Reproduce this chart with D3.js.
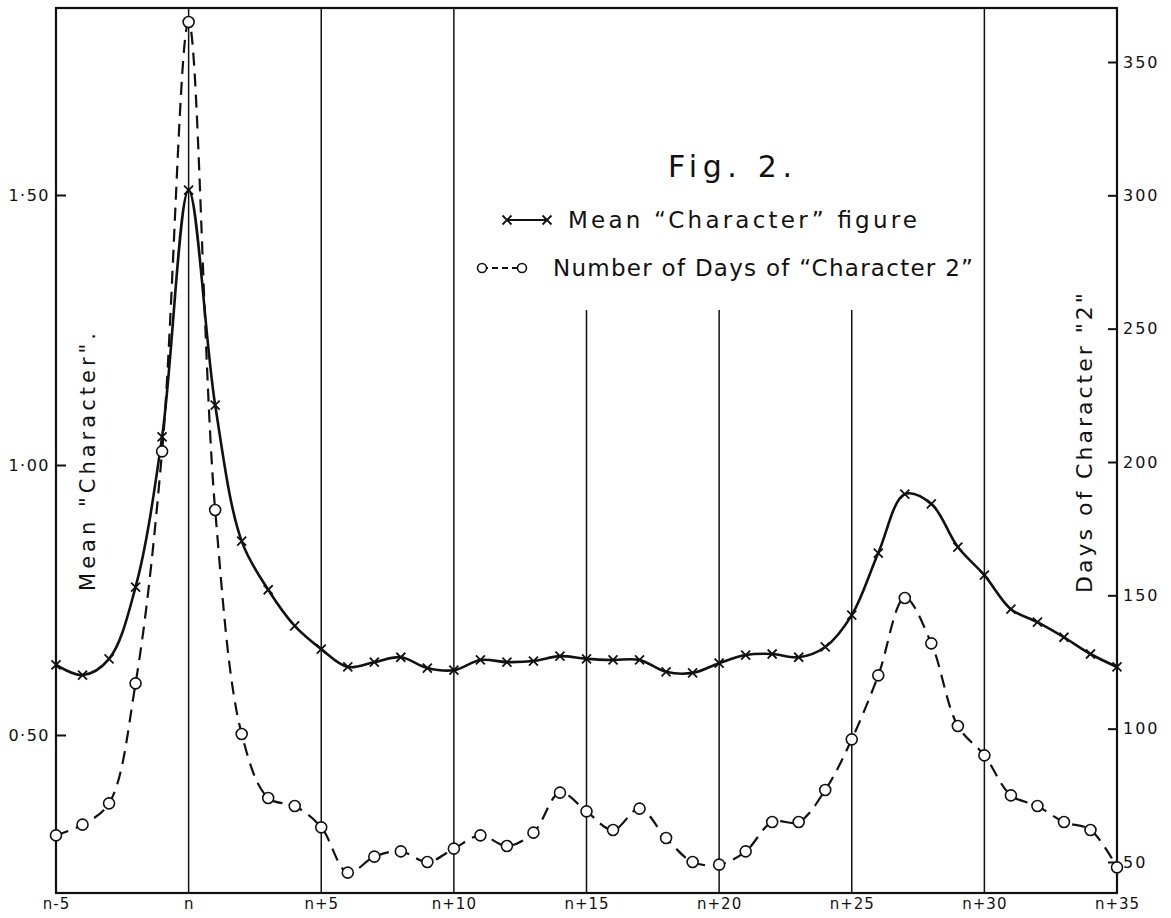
<!DOCTYPE html>
<html>
<head>
<meta charset="utf-8">
<script src="https://cdn.jsdelivr.net/npm/d3@7"></script>
<style>
  body { margin: 0; background: #fff; }
  text { font-family: "DejaVu Sans", sans-serif; fill: #111; }
</style>
</head>
<body>
<svg id="chart"></svg>
<script>
// days relative to n
days = [-5,-4,-3,-2,-1,0,1,2,3,4,5,6,7,8,9,10,11,12,13,14,15,16,17,18,19,20,
        21,22,23,24,25,26,27,28,29,30,31,32,33,34,35]
// mean "character" figure (left axis)
meanChar = [0.630,0.611,0.641,0.774,1.052,1.509,1.111,0.859,0.769,0.702,0.659,
            0.626,0.635,0.644,0.624,0.620,0.639,0.635,0.637,0.646,0.641,0.639,
            0.639,0.617,0.615,0.633,0.648,0.650,0.644,0.663,0.722,0.837,0.946,
            0.928,0.848,0.796,0.733,0.709,0.681,0.650,0.626]
// number of days of character 2 (right axis)
char2Days = [60,64,72,117,204,365,182,98,74,71,63,46,52,54,50,55,60,56,61,76,
             69,62,70,59,50,49,54,65,65,77,96,120,149,132,101,90,75,71,65,62,48]

xTicks = [-5,0,5,10,15,20,25,30,35]
xTickLabels = ['n-5','n','n+5','n+10','n+15','n+20','n+25','n+30','n+35']
leftTicks = [0.5,1.0,1.5]
leftTickLabels = ['0·50','1·00','1·50']
rightTicks = [50,100,150,200,250,300,350]
shortLines = [15,20,25]   // grid lines that stop under the legend

W = 1171; H = 918;
top_ = 8; bottom_ = 893;

svg = d3.select('#chart').attr('width', W).attr('height', H);

x = d3.scaleLinear().domain([-5,35]).range([56,1117]);
yL = d3.scaleLinear().domain([0.5,1.5]).range([735,195]);
yR = d3.scaleLinear().domain([50,350]).range([862,62]);

// vertical grid lines
svg.selectAll('.grid').data(xTicks.slice(1,-1)).enter()
  .append('line')
  .attr('x1', d => x(d)).attr('x2', d => x(d))
  .attr('y1', d => shortLines.includes(d) ? 310 : top_)
  .attr('y2', bottom_)
  .attr('stroke', '#111').attr('stroke-width', 1.5);

// frame
svg.append('rect')
  .attr('x', x(-5)).attr('y', top_)
  .attr('width', x(35) - x(-5)).attr('height', bottom_ - top_)
  .attr('fill', 'none').attr('stroke', '#111').attr('stroke-width', 2.2);

// left axis (ticks inside)
gl = svg.append('g').attr('transform', `translate(${x(-5)},0)`)
  .call(d3.axisRight(yL).tickValues(leftTicks).tickSize(10)
        .tickFormat((d,i) => leftTickLabels[i]));
gl.select('.domain').remove();
gl.selectAll('line').attr('stroke', '#111').attr('stroke-width', 2);
gl.selectAll('text').attr('x', -6).attr('text-anchor', 'end')
  .style('font-size', '16px').style('letter-spacing', '1.5px')
  .style('font-family', '"DejaVu Sans", sans-serif');

// right axis (ticks inside)
gr = svg.append('g').attr('transform', `translate(${x(35)},0)`)
  .call(d3.axisLeft(yR).tickValues(rightTicks).tickSize(9));
gr.select('.domain').remove();
gr.selectAll('line').attr('stroke', '#111').attr('stroke-width', 2);
gr.selectAll('text').attr('x', 6).attr('text-anchor', 'start')
  .style('font-size', '16px').style('letter-spacing', '2px')
  .style('font-family', '"DejaVu Sans", sans-serif');

// bottom labels
gb = svg.append('g').attr('transform', `translate(0,${bottom_})`)
  .call(d3.axisBottom(x).tickValues(xTicks).tickSize(0)
        .tickFormat((d,i) => xTickLabels[i]));
gb.select('.domain').remove();
gb.selectAll('text').attr('y', 5)
  .style('font-size', '15px').style('letter-spacing', '1px')
  .style('font-family', '"DejaVu Sans", sans-serif');

data = days.map((d,i) => ({day: d, c: meanChar[i], n: char2Days[i]}));

// dashed line: days of character 2
svg.append('path').datum(data)
  .attr('d', d3.line().x(d => x(d.day)).y(d => yR(d.n)).curve(d3.curveCatmullRom))
  .attr('fill', 'none').attr('stroke', '#111').attr('stroke-width', 2.2)
  .attr('stroke-dasharray', '13,8');

// solid line: mean character
svg.append('path').datum(data)
  .attr('d', d3.line().x(d => x(d.day)).y(d => yL(d.c)).curve(d3.curveCatmullRom))
  .attr('fill', 'none').attr('stroke', '#111').attr('stroke-width', 2.6);

svg.selectAll('.circ').data(data).enter()
  .append('circle')
  .attr('cx', d => x(d.day)).attr('cy', d => yR(d.n)).attr('r', 5.5)
  .attr('fill', '#fff').attr('stroke', '#111').attr('stroke-width', 1.6);

cross = 'M-4.5,-4.5L4.5,4.5M-4.5,4.5L4.5,-4.5';
svg.selectAll('.cross').data(data).enter()
  .append('path')
  .attr('transform', d => `translate(${x(d.day)},${yL(d.c)})`)
  .attr('d', cross)
  .attr('fill', 'none').attr('stroke', '#111').attr('stroke-width', 1.8);

// axis titles
svg.append('text')
  .attr('transform', 'translate(88,462) rotate(-90)')
  .attr('text-anchor', 'middle').attr('dominant-baseline', 'central')
  .attr('textLength', 258).attr('lengthAdjust', 'spacing')
  .style('font-size', '21px')
  .text('Mean "Character".');

svg.append('text')
  .attr('transform', 'translate(1084,443) rotate(-90)')
  .attr('text-anchor', 'middle').attr('dominant-baseline', 'central')
  .attr('textLength', 300).attr('lengthAdjust', 'spacing')
  .style('font-size', '22px')
  .text('Days of Character "2"');

// title + legend
svg.append('text').attr('x', 668).attr('y', 177)
  .attr('textLength', 124).attr('lengthAdjust', 'spacing')
  .style('font-size', '30px').text('Fig. 2.');

legY1 = 220; legY2 = 268;
svg.append('line').attr('x1', 507).attr('x2', 547).attr('y1', legY1).attr('y2', legY1)
  .attr('stroke', '#111').attr('stroke-width', 2);
[507,547].forEach(function(cx) {
  svg.append('path').attr('transform', `translate(${cx},${legY1})`).attr('d', cross)
    .attr('fill', 'none').attr('stroke', '#111').attr('stroke-width', 1.8);
});
svg.append('text').attr('x', 568).attr('y', legY1 + 8)
  .attr('textLength', 349).attr('lengthAdjust', 'spacing')
  .style('font-size', '23px').text('Mean \u201cCharacter\u201d figure');

svg.append('line').attr('x1', 482).attr('x2', 522).attr('y1', legY2).attr('y2', legY2)
  .attr('stroke', '#111').attr('stroke-width', 2).attr('stroke-dasharray', '6,4');
[482,522].forEach(function(cx) {
  svg.append('circle').attr('cx', cx).attr('cy', legY2).attr('r', 4.5)
    .attr('fill', '#fff').attr('stroke', '#111').attr('stroke-width', 1.6);
});
svg.append('text').attr('x', 553).attr('y', legY2 + 8)
  .attr('textLength', 420).attr('lengthAdjust', 'spacing')
  .style('font-size', '23px').text('Number of Days of \u201cCharacter 2\u201d');
</script>
</body>
</html>
